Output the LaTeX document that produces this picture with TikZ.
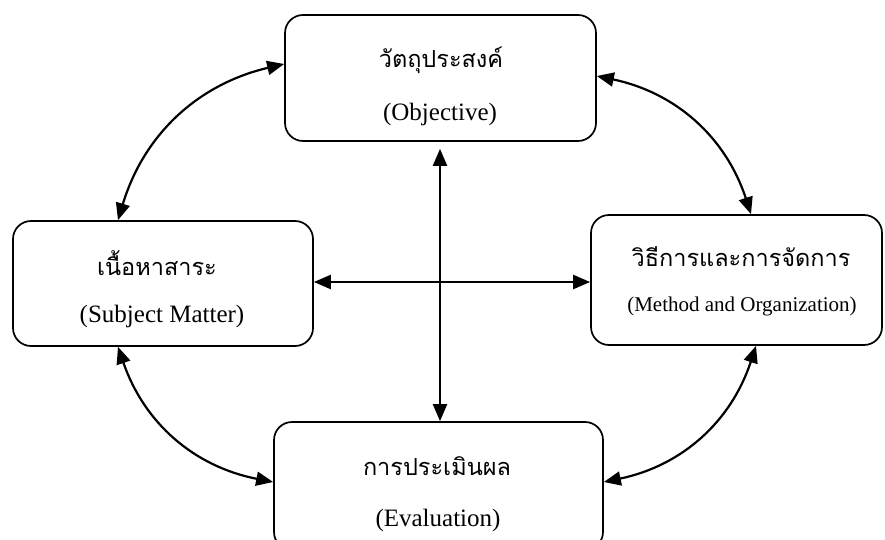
\documentclass[tikz,border=0pt]{standalone}
\usepackage{fontspec}
\setmainfont{Liberation Serif}
\newfontfamily\thaifont[Script=Thai]{Loma}
\usetikzlibrary{arrows.meta}
\begin{document}
\begin{tikzpicture}[x=1pt,y=-1pt,
  box/.style={draw=black,line width=1.7pt,rounded corners=18pt,inner sep=0pt},
  th/.style={font=\thaifont\fontsize{23.5}{28}\selectfont,inner sep=0pt},
  en/.style={font=\fontsize{25}{30}\selectfont,inner sep=0pt},
  con/.style={line width=2.2pt,{Triangle[length=17pt,width=14pt]}-{Triangle[length=17pt,width=14pt]}}]
\useasboundingbox (0,0) rectangle (885,540);
\node[box,minimum width=311pt,minimum height=126pt] (top) at (440.5,78) {};
\node[box,minimum width=300pt,minimum height=125pt] (left) at (163,283.5) {};
\node[box,minimum width=291pt,minimum height=130pt] (right) at (736.5,280) {};
\node[box,minimum width=329pt,minimum height=128pt] (bot) at (438.5,486) {};
\node[th] (topth) at (441,60) {วัตถุประสงค์};
\node[en] (topen) at (440,114) {(Objective)};
\node[th] (leftth) at (157,263) {เนื้อหาสาระ};
\node[en] (leften) at (162,316) {(Subject Matter)};
\node[th] (rightth) at (741,257) {วิธีการและการจัดการ};
\node[en,font=\fontsize{21}{25}\selectfont] (righten) at (742,306) {(Method and Organization)};
\node[th] (botth) at (437,466) {การประเมินผล};
\node[en] (boten) at (438,520) {(Evaluation)};
\coordinate (vt) at ([yshift=-7pt]top.south -| 440,0);
\coordinate (vb) at (bot.north -| 440,0);
\draw[con] (vt) -- (vb);
\draw[con] (left.east |- 0,282) -- (right.west |- 0,282);
\draw[con] (top.west |- 0,64) to[bend right=30] (left.north -| 118,0);
\draw[con] (top.east |- 0,76) to[bend left=30] (right.north -| 751,0);
\draw[con] (left.south -| 118,0) to[bend right=30] (bot.west |- 0,482);
\draw[con] (right.south -| 756,0) to[bend left=30] (bot.east |- 0,482);
\end{tikzpicture}
\end{document}
